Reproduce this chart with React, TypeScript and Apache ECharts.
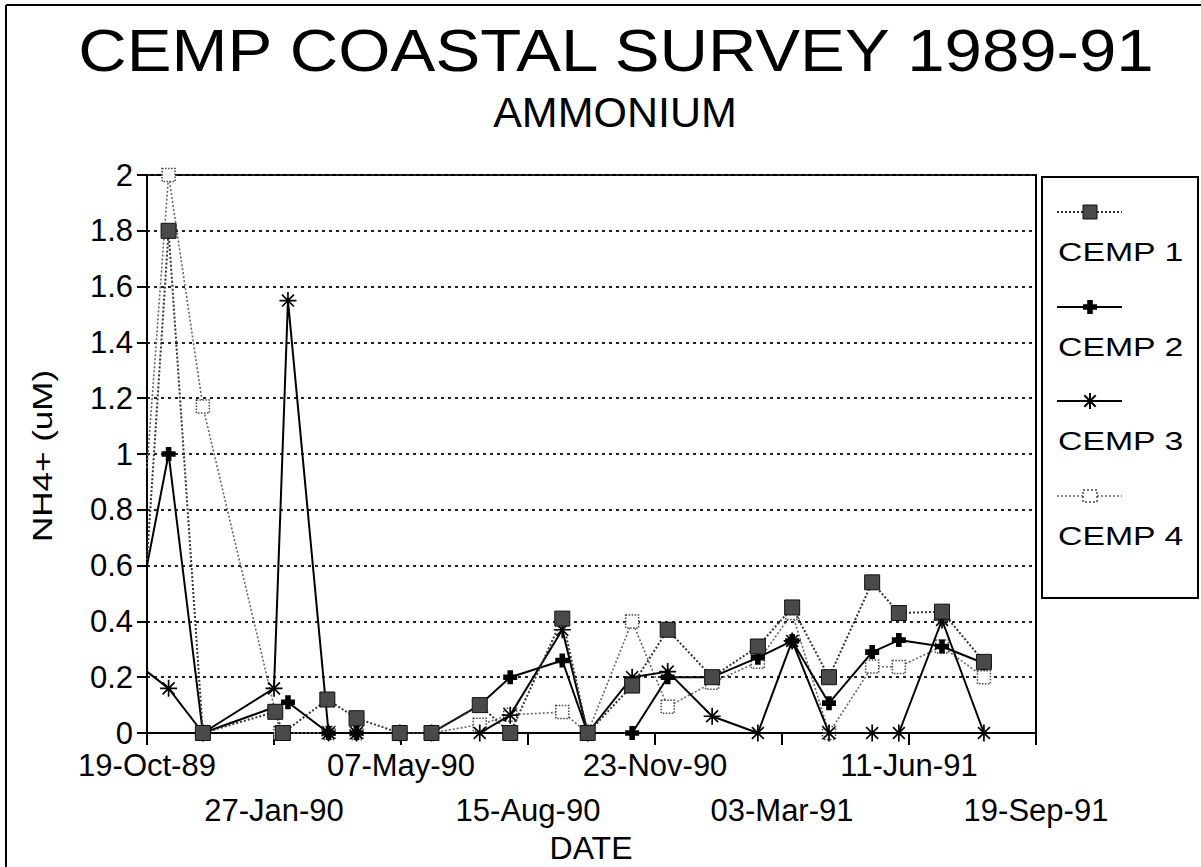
import React, { useEffect, useRef } from 'react';
import * as echarts from 'echarts';

// ---------- data ----------
const AXIS_START = '1989-10-19';
const AXIS_DAYS = 700;
const TICK_DAYS = 100;
const xTickLabels = ['19-Oct-89', '27-Jan-90', '07-May-90', '15-Aug-90', '23-Nov-90', '03-Mar-91', '11-Jun-91', '19-Sep-91'];
const yMin = 0;
const yMax = 2;
const yStep = 0.2;

const seriesNames = ['CEMP 1', 'CEMP 2', 'CEMP 3', 'CEMP 4'];

// first entry of each series is the value where the line enters the plot at its left edge
const cemp1Dates = ['1989-10-19', '1989-11-05', '1989-12-02', '1990-01-28', '1990-02-03', '1990-03-10', '1990-04-02', '1990-05-06', '1990-05-31', '1990-07-08', '1990-08-01', '1990-09-11', '1990-10-01', '1990-11-05', '1990-12-03', '1991-01-07', '1991-02-12', '1991-03-11', '1991-04-09', '1991-05-13', '1991-06-03', '1991-07-07', '1991-08-09'];
const cemp1Values = [0.62, 1.8, 0, 0.076, 0, 0.12, 0.053, 0, 0, 0.1, 0, 0.41, 0, 0.17, 0.37, 0.2, 0.31, 0.45, 0.2, 0.54, 0.43, 0.435, 0.255];

const cemp2Dates = ['1989-10-19', '1989-11-05', '1989-12-02', '1990-02-07', '1990-03-11', '1990-04-02', '1990-05-06', '1990-05-31', '1990-07-08', '1990-08-01', '1990-09-11', '1990-10-01', '1990-11-05', '1990-12-03', '1991-01-07', '1991-02-12', '1991-03-11', '1991-04-09', '1991-05-13', '1991-06-03', '1991-07-07', '1991-08-09'];
const cemp2Values = [0.6, 1.0, 0, 0.11, 0, 0, 0, 0, 0.1, 0.2, 0.26, 0, 0, 0.2, 0.2, 0.27, 0.33, 0.107, 0.29, 0.333, 0.31, 0.25];

const cemp3Dates = ['1989-10-19', '1989-11-05', '1989-12-02', '1990-01-27', '1990-02-07', '1990-03-11', '1990-04-02', '1990-05-06', '1990-05-31', '1990-07-08', '1990-08-01', '1990-09-11', '1990-10-01', '1990-11-05', '1990-12-03', '1991-01-07', '1991-02-12', '1991-03-11', '1991-04-09', '1991-05-13', '1991-06-03', '1991-07-07', '1991-08-09'];
const cemp3Values = [0.22, 0.16, 0, 0.16, 1.55, 0, 0, 0, 0, 0, 0.064, 0.37, 0, 0.2, 0.22, 0.06, 0, 0.33, 0, 0, 0, 0.405, 0];

const cemp4Dates = ['1989-10-19', '1989-11-05', '1989-12-02', '1990-02-01', '1990-03-11', '1990-04-02', '1990-05-06', '1990-05-31', '1990-07-08', '1990-08-01', '1990-09-11', '1990-10-01', '1990-11-05', '1990-12-03', '1991-01-07', '1991-02-12', '1991-03-11', '1991-04-09', '1991-05-13', '1991-06-03', '1991-07-07', '1991-08-09'];
const cemp4Values = [0.95, 2.0, 1.17, 0, 0, 0, 0, 0, 0.03, 0.065, 0.075, 0, 0.4, 0.094, 0.18, 0.255, 0.43, 0, 0.238, 0.237, 0.31, 0.2];

// ---------- helpers ----------
const DAY_MS = 86400000;
const startMs = Date.parse(AXIS_START + 'T00:00:00Z');
const toDays = (s: string) => Math.round((Date.parse(s + 'T00:00:00Z') - startMs) / DAY_MS);

const STAR_PATH =
  'path://M0 9L20 9L20 11L0 11Z M9 0L11 0L11 20L9 20Z M3.7 2.3L17.7 16.3L16.3 17.7L2.3 3.7Z M16.3 2.3L17.7 3.7L3.7 17.7L2.3 16.3Z';
const PLUS_PATH = 'path://M6 0L14 0L14 6L20 6L20 14L14 14L14 20L6 20L6 14L0 14L0 6L6 6Z';

const FONT = '"Liberation Sans", Arial, sans-serif';

function buildData(dates: string[], values: number[]) {
  return dates.map((d, i) => {
    const x = toDays(d);
    const item: any = { value: [x, values[i]] };
    if (x <= 0) item.symbol = 'none';
    return item;
  });
}

const seriesStyles = [
  {
    symbol: 'rect',
    symbolSize: 15,
    itemStyle: { color: '#4a4a4a', borderColor: '#111', borderWidth: 1 },
    lineStyle: { color: '#333', width: 2, type: [2, 2] },
  },
  {
    symbol: PLUS_PATH,
    symbolSize: 14,
    itemStyle: { color: '#000' },
    lineStyle: { color: '#000', width: 2 },
  },
  {
    symbol: STAR_PATH,
    symbolSize: 17,
    itemStyle: { color: '#000' },
    lineStyle: { color: '#000', width: 2 },
  },
  {
    symbol: 'rect',
    symbolSize: 13,
    itemStyle: { color: '#fff', borderColor: '#444', borderWidth: 1.5, borderType: 'dotted' },
    lineStyle: { color: '#666', width: 1.6, type: [2, 2] },
  },
];

const allDates = [cemp1Dates, cemp2Dates, cemp3Dates, cemp4Dates];
const allValues = [cemp1Values, cemp2Values, cemp3Values, cemp4Values];

function legendGraphic(): any[] {
  const items: any[] = [];
  items.push({
    type: 'rect',
    shape: { x: 1042, y: 177, width: 156, height: 421 },
    style: { fill: '#fff', stroke: '#000', lineWidth: 2 },
    z: 10,
  });
  const sampleY = [212, 307, 401, 496];
  const cx = 1090;
  seriesNames.forEach((name, i) => {
    const sy = sampleY[i];
    const ls = seriesStyles[i].lineStyle as any;
    items.push({
      type: 'line',
      shape: { x1: 1057, y1: sy, x2: 1122, y2: sy },
      style: { stroke: ls.color, lineWidth: ls.width, lineDash: Array.isArray(ls.type) ? ls.type : null },
      z: 11,
    });
    if (i === 0) {
      items.push({
        type: 'rect',
        shape: { x: cx - 7, y: sy - 7, width: 14, height: 14 },
        style: { fill: '#4a4a4a', stroke: '#111', lineWidth: 1 },
        z: 12,
      });
    } else if (i === 1) {
      const a = 7, b = 2.8;
      items.push({
        type: 'polygon',
        shape: {
          points: [
            [cx - b, sy - a], [cx + b, sy - a], [cx + b, sy - b], [cx + a, sy - b], [cx + a, sy + b], [cx + b, sy + b],
            [cx + b, sy + a], [cx - b, sy + a], [cx - b, sy + b], [cx - a, sy + b], [cx - a, sy - b], [cx - b, sy - b],
          ],
        },
        style: { fill: '#000' },
        z: 12,
      });
    } else if (i === 2) {
      const r = 8, d = 5.7;
      const segs = [
        [cx - r, sy, cx + r, sy],
        [cx, sy - r, cx, sy + r],
        [cx - d, sy - d, cx + d, sy + d],
        [cx + d, sy - d, cx - d, sy + d],
      ];
      segs.forEach((s) =>
        items.push({
          type: 'line',
          shape: { x1: s[0], y1: s[1], x2: s[2], y2: s[3] },
          style: { stroke: '#000', lineWidth: 2 },
          z: 12,
        })
      );
    } else {
      items.push({
        type: 'rect',
        shape: { x: cx - 7, y: sy - 6, width: 14, height: 12 },
        style: { fill: '#fff', stroke: '#444', lineWidth: 1.5, lineDash: [2, 2] },
        z: 12,
      });
    }
    items.push({
      type: 'text',
      x: 1058,
      y: sy + 40,
      scaleX: 1.3,
      style: { text: name, fontSize: 26, fontFamily: FONT, fill: '#000', align: 'left', verticalAlign: 'middle' },
      z: 12,
    });
  });
  return items;
}

const xLabelBase = {
  fontSize: 31,
  lineHeight: 36,
  fontFamily: FONT,
  color: '#000',
  showMinLabel: true,
  showMaxLabel: true,
  hideOverlap: false,
};

export default function App() {
  const ref = useRef<HTMLDivElement>(null);

  useEffect(() => {
    if (!ref.current) return;
    const chart = echarts.init(ref.current, undefined, { renderer: 'svg' });

    const series = seriesNames.map((name, i) => ({
      type: 'line',
      name,
      xAxisIndex: 0,
      yAxisIndex: 0,
      data: buildData(allDates[i], allValues[i]),
      symbol: seriesStyles[i].symbol,
      symbolSize: seriesStyles[i].symbolSize,
      itemStyle: seriesStyles[i].itemStyle,
      lineStyle: seriesStyles[i].lineStyle,
      showAllSymbol: true,
      clip: true,
      z: 3 + (3 - i),
    }));

    const option: any = {
      animation: false,
      backgroundColor: '#fff',
      grid: {
        left: 147,
        right: 1201 - 1036,
        top: 175,
        bottom: 867 - 733,
        show: true,
        borderColor: '#000',
        borderWidth: 2,
        backgroundColor: 'transparent',
      },
      xAxis: [
        {
          type: 'value',
          position: 'bottom',
          min: 0,
          max: AXIS_DAYS,
          interval: TICK_DAYS,
          axisLine: { show: true, onZero: false, lineStyle: { color: '#000', width: 2 } },
          axisTick: { show: true, inside: false, length: 12, lineStyle: { color: '#000', width: 2 } },
          splitLine: { show: false },
          axisLabel: {
            ...xLabelBase,
            margin: 14,
            formatter: (v: number) => {
              const i = Math.round(v / TICK_DAYS);
              return i % 2 === 0 ? xTickLabels[i] ?? '' : '';
            },
          },
        },
        {
          type: 'value',
          position: 'bottom',
          offset: 0,
          min: 0,
          max: AXIS_DAYS,
          interval: TICK_DAYS,
          axisLine: { show: false, onZero: false },
          axisTick: { show: false },
          splitLine: { show: false },
          axisLabel: {
            ...xLabelBase,
            margin: 59,
            formatter: (v: number) => {
              const i = Math.round(v / TICK_DAYS);
              return i % 2 === 1 ? xTickLabels[i] ?? '' : '';
            },
          },
        },
      ],
      yAxis: {
        type: 'value',
        min: yMin,
        max: yMax,
        interval: yStep,
        axisLine: { show: true, lineStyle: { color: '#000', width: 2 } },
        axisTick: { show: true, inside: false, length: 10, lineStyle: { color: '#000', width: 2 } },
        splitLine: { show: true, lineStyle: { color: '#222', width: 2, type: [3, 4] } },
        axisLabel: {
          margin: 14,
          fontSize: 31,
          fontFamily: FONT,
          color: '#000',
          formatter: (v: number) => String(Math.round(v * 10) / 10),
        },
      },
      series,
      graphic: [
        {
          type: 'line',
          shape: { x1: 6, y1: 5, x2: 1201, y2: 5 },
          style: { stroke: '#000', lineWidth: 2 },
        },
        {
          type: 'line',
          shape: { x1: 6, y1: 5, x2: 6, y2: 867 },
          style: { stroke: '#000', lineWidth: 2 },
        },
        {
          type: 'text',
          x: 616,
          y: 50,
          scaleX: 1.12,
          style: {
            text: 'CEMP COASTAL SURVEY 1989-91',
            fontSize: 60,
            fontFamily: FONT,
            fill: '#000',
            align: 'center',
            verticalAlign: 'middle',
          },
        },
        {
          type: 'text',
          x: 615,
          y: 112,
          style: {
            text: 'AMMONIUM',
            fontSize: 43,
            fontFamily: FONT,
            fill: '#000',
            align: 'center',
            verticalAlign: 'middle',
          },
        },
        {
          type: 'text',
          x: 42,
          y: 456,
          rotation: Math.PI / 2,
          scaleX: 1.25,
          style: {
            text: 'NH4+ (uM)',
            fontSize: 28,
            fontFamily: FONT,
            fill: '#000',
            align: 'center',
            verticalAlign: 'middle',
          },
        },
        {
          type: 'text',
          x: 591,
          y: 848,
          style: {
            text: 'DATE',
            fontSize: 32,
            fontFamily: FONT,
            fill: '#000',
            align: 'center',
            verticalAlign: 'middle',
          },
        },
        ...legendGraphic(),
      ],
    };

    chart.setOption(option);
    return () => {
      chart.dispose();
    };
  }, []);

  return (
    <div
      ref={ref}
      style={{ position: 'absolute', left: 0, top: 0, width: 1201, height: 867, background: '#fff' }}
    />
  );
}
